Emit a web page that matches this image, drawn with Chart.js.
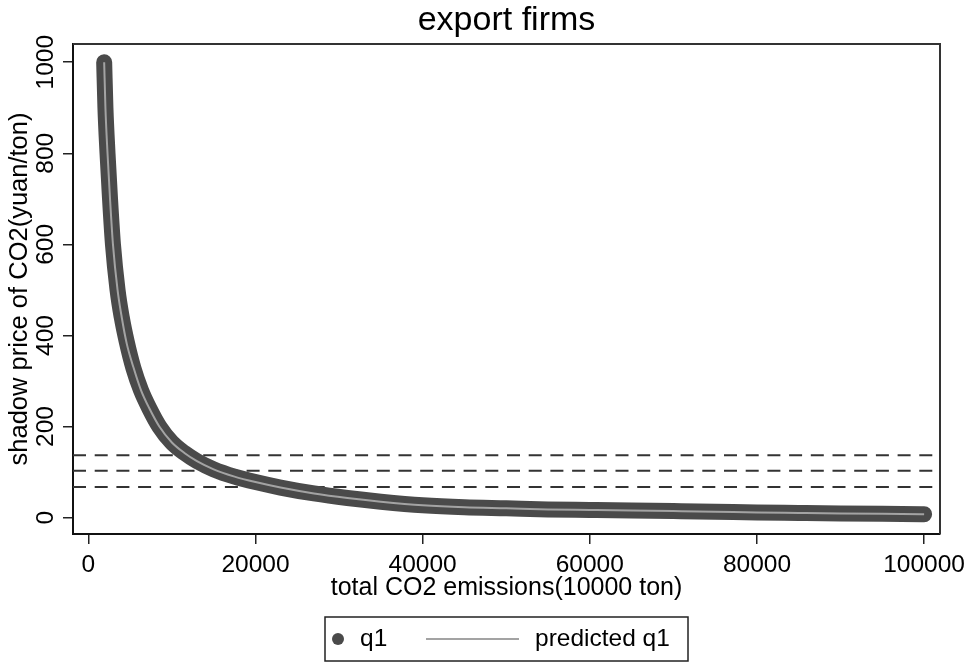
<!DOCTYPE html>
<html>
<head>
<meta charset="utf-8">
<title>export firms</title>
<script src="https://cdn.jsdelivr.net/npm/chart.js@4.4.1/dist/chart.umd.min.js"></script>
<style>
  html, body { margin: 0; padding: 0; background: #fff; }
  #wrap { width: 975px; height: 664px; position: relative; }
</style>
</head>
<body>
<div id="wrap"><canvas id="graph"></canvas></div>
<script>
'use strict';

// total CO2 emissions (10000 ton)
var emissions = [1900, 2050, 2300, 2600, 2950, 3500, 4000, 4600, 5400, 6300,
                 7300, 8500, 10000, 11500, 13000, 15000, 17500, 20000, 23000, 27000,
                 31000, 35000, 40000, 45000, 50000, 55000, 60000, 65000, 70000, 75000,
                 80000, 85000, 90000, 95000, 100000];
// shadow price of CO2 (yuan/ton), observed points
var q1 = [1000, 900, 800, 700, 600, 500, 440, 386, 328, 280,
          240, 200, 165, 142, 124, 106, 90, 78, 66, 53,
          43, 35, 27, 22.5, 20.3, 18, 16.8, 15.6, 14.3, 12.9,
          11.2, 10.2, 9.2, 8.3, 7.5];
// fitted values
var predicted = [1000, 900, 800, 700, 600, 500, 440, 382, 330, 280,
                 240, 200, 165, 142, 124, 106, 90, 78, 66, 53,
                 43, 35, 27, 22.5, 20.3, 18, 16.8, 15.6, 14.3, 12.9,
                 11.2, 10.2, 9.2, 8.3, 7.5];
// horizontal reference prices
var refPrices = [137, 103, 67];

var xTicks = [0, 20000, 40000, 60000, 80000, 100000];
var yTicks = [0, 200, 400, 600, 800, 1000];
var xRange = [-1830, 101900];
var yRange = [-36, 1040];

var font = 'Liberation Sans, Arial, Helvetica, sans-serif';
var dark = '#4a4a4a';
var light = '#a3a3a3';

function points(xs, ys) {
  return xs.map(function(x, i) { return { x: x, y: ys[i] }; });
}

var datasets = [
  {
    label: 'predicted q1',
    data: points(emissions, predicted),
    borderColor: light,
    borderWidth: 2,
    pointRadius: 0,
    cubicInterpolationMode: 'monotone',
    order: 0
  },
  {
    label: 'q1',
    data: points(emissions, q1),
    borderColor: dark,
    borderWidth: 16,
    borderCapStyle: 'round',
    borderJoinStyle: 'round',
    pointRadius: 0,
    cubicInterpolationMode: 'monotone',
    order: 1
  }
];
refPrices.forEach(function(p) {
  datasets.push({
    label: '',
    data: [{ x: xRange[0], y: p }, { x: xRange[1], y: p }],
    borderColor: '#333',
    borderWidth: 2,
    borderDash: [13, 8.7],
    pointRadius: 0,
    order: 2
  });
});

// top/right frame and a Stata-like boxed legend
var framePlugin = {
  id: 'frame',
  afterDraw: function(chart) {
    var ctx = chart.ctx;
    var a = chart.chartArea;
    ctx.save();
    ctx.strokeStyle = '#333';
    ctx.lineWidth = 2;
    ctx.beginPath();
    ctx.moveTo(a.left, a.top);
    ctx.lineTo(a.right, a.top);
    ctx.lineTo(a.right, a.bottom);
    ctx.stroke();

    var cx = (a.left + a.right) / 2;
    var bx = cx - 181.5, by = 617, bw = 363, bh = 44;
    var my = by + bh / 2;
    ctx.lineWidth = 1.5;
    ctx.strokeStyle = '#222';
    ctx.strokeRect(bx, by, bw, bh);

    ctx.fillStyle = dark;
    ctx.beginPath();
    ctx.arc(bx + 13, my, 6, 0, 2 * Math.PI);
    ctx.fill();

    ctx.strokeStyle = light;
    ctx.lineWidth = 2;
    ctx.beginPath();
    ctx.moveTo(bx + 101, my);
    ctx.lineTo(bx + 194, my);
    ctx.stroke();

    ctx.fillStyle = '#000';
    ctx.font = '24.5px ' + font;
    ctx.textBaseline = 'middle';
    ctx.textAlign = 'left';
    ctx.fillText(datasets[1].label, bx + 35, my);
    ctx.fillText(datasets[0].label, bx + 210, my);
    ctx.restore();
  }
};

var ctx = document.getElementById('graph').getContext('2d');
var myChart = new Chart(ctx, {
  type: 'line',
  data: { datasets: datasets },
  plugins: [framePlugin],
  options: {
    responsive: true,
    maintainAspectRatio: false,
    animation: false,
    layout: { padding: { left: 0, right: 35, top: 0, bottom: 0 } },
    plugins: {
      legend: { display: false },
      tooltip: { enabled: false },
      title: {
        display: true,
        text: 'export firms',
        fullSize: false,
        color: '#000',
        font: { family: font, size: 34, weight: 'normal' },
        padding: { top: 0, bottom: 3.2 }
      }
    },
    scales: {
      x: {
        type: 'linear',
        min: xRange[0],
        max: xRange[1],
        afterBuildTicks: function(scale) {
          scale.ticks = xTicks.map(function(v) { return { value: v }; });
        },
        afterFit: function(scale) { scale.height = 130; },
        grid: { drawOnChartArea: false, drawTicks: true, tickLength: 10, color: '#222', lineWidth: 1.5 },
        border: { display: true, color: '#111', width: 2 },
        ticks: {
          color: '#000',
          padding: 7,
          maxRotation: 0,
          font: { family: font, size: 24.5 },
          callback: function(v) { return String(v); }
        },
        title: {
          display: true,
          text: 'total CO2 emissions(10000 ton)',
          color: '#000',
          font: { family: font, size: 25 },
          padding: { top: 0, bottom: 61 }
        }
      },
      y: {
        type: 'linear',
        min: yRange[0],
        max: yRange[1],
        afterBuildTicks: function(scale) {
          scale.ticks = yTicks.map(function(v) { return { value: v }; });
        },
        afterFit: function(scale) { scale.width = 73; },
        grid: { drawOnChartArea: false, drawTicks: true, tickLength: 10, color: '#222', lineWidth: 1.5 },
        border: { display: true, color: '#111', width: 2 },
        ticks: {
          color: '#000',
          padding: -10.5,
          minRotation: 90,
          maxRotation: 90,
          crossAlign: 'center',
          font: { family: font, size: 24.5 },
          callback: function(v) { return String(v); }
        },
        title: {
          display: true,
          text: 'shadow price of CO2(yuan/ton)',
          color: '#000',
          font: { family: font, size: 25.5 },
          padding: { top: 4.7, bottom: 0 }
        }
      }
    }
  }
});
</script>
</body>
</html>
